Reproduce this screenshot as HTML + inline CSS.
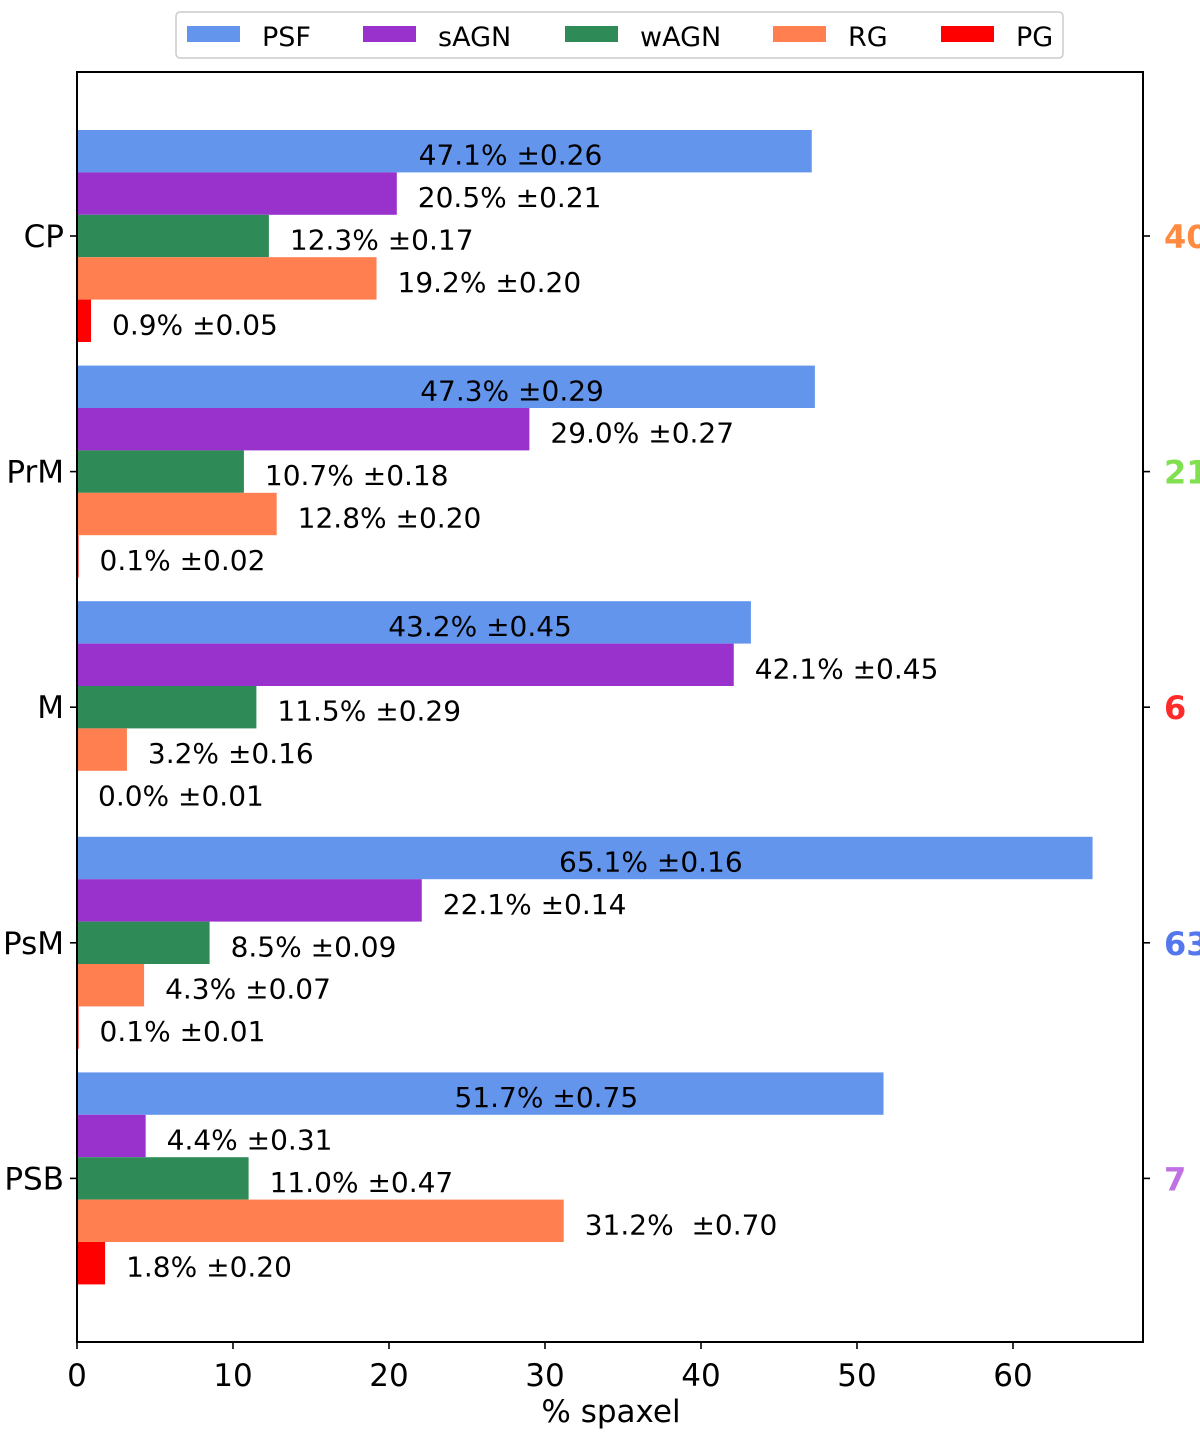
<!DOCTYPE html>
<html><head><meta charset="utf-8"><style>
html,body{margin:0;padding:0;background:#fff;}
svg text{font-family:"DejaVu Sans","Liberation Sans",sans-serif;}
</style></head><body>
<svg id="chart" width="1200" height="1442" xmlns="http://www.w3.org/2000/svg"></svg>
<script>
const categories = ["CP","PrM","M","PsM","PSB"];
const seriesNames = ["PSF","sAGN","wAGN","RG","PG"];
const psf  = [47.1, 47.3, 43.2, 65.1, 51.7];
const sagn = [20.5, 29.0, 42.1, 22.1, 4.4];
const wagn = [12.3, 10.7, 11.5, 8.5, 11.0];
const rg   = [19.2, 12.8, 3.2, 4.3, 31.2];
const pg   = [0.9, 0.1, 0.0, 0.1, 1.8];
const psfErr  = ["0.26","0.29","0.45","0.16","0.75"];
const sagnErr = ["0.21","0.27","0.45","0.14","0.31"];
const wagnErr = ["0.17","0.18","0.29","0.09","0.47"];
const rgErr   = ["0.20","0.20","0.16","0.07","0.70"];
const pgErr   = ["0.05","0.02","0.01","0.01","0.20"];
const rightLabels = ["40","21","6","63","7"];
const xTicks = [0,10,20,30,40,50,60];

const colors = ["#6495ED","#9932CC","#2E8B57","#FF7F50","#FF0000"];
const rightColors = ["#ff8a40","#80e050","#ff2a2a","#5577ee","#c070e0"];
const series = [psf,sagn,wagn,rg,pg];
const errs = [psfErr,sagnErr,wagnErr,rgErr,pgErr];

const L=77,R=1143,T=72,B=1342;
const x = v => L + v*15.6;
const yc = i => 236 + i*235.6;
const bh = 42.4;
const svg = document.getElementById('chart');
const NS = "http://www.w3.org/2000/svg";
function mk(tag, attrs, parent){const e=document.createElementNS(NS,tag);for(const k in attrs)e.setAttribute(k,attrs[k]);(parent||svg).appendChild(e);return e;}

categories.forEach((c,i)=>{
  series.forEach((s,j)=>{
    const top = yc(i) - 2.5*bh + j*bh;
    const r = mk('rect',{x:L,y:top,width:Math.max(0,x(s[i])-L),height:bh,fill:colors[j]});
    
    
    const lbl = s[i].toFixed(1)+'%'+(j===3&&i===4?'  ':' ')+'±'+errs[j][i];
    let tx = j===0 ? x(s[i]/2 - 1.65) : x(s[i]) + 21;
    const t = mk('text',{x:tx,y:top+bh/2+13.5,'font-size':28,fill:'#000','xml:space':'preserve'});
    t.textContent = lbl;
    t.setAttribute('style','white-space:pre');
    
    
  });
  mk('line',{x1:L-7,x2:L,y1:yc(i),y2:yc(i),stroke:'#000','stroke-width':1.6});
  const yl = mk('text',{x:L-13,y:yc(i)+11,'font-size':31,'text-anchor':'end'});
  yl.textContent = c;
  
  
  mk('line',{x1:R,x2:R+7,y1:yc(i),y2:yc(i),stroke:'#000','stroke-width':1.6});
  const rl = mk('text',{x:R+21,y:yc(i)+12,'font-size':32,'font-weight':'bold',fill:rightColors[i]});
  rl.textContent = rightLabels[i];
  
  
});

const fr = mk('rect',{x:L,y:T,width:R-L,height:B-T,fill:'none',stroke:'#000','stroke-width':2});



xTicks.forEach(v=>{
  mk('line',{x1:x(v),x2:x(v),y1:B,y2:B+7,stroke:'#000','stroke-width':1.6});
  const t = mk('text',{x:x(v),y:1386,'font-size':31,'text-anchor':'middle'});
  t.textContent = v;
  
  
});
const xl = mk('text',{x:611,y:1422,'font-size':31,'text-anchor':'middle'});
xl.textContent = '% spaxel';



const lg = mk('g',{});


mk('rect',{x:176,y:12,width:887,height:46,rx:4,fill:'#fff',stroke:'#ccc','stroke-width':1.5},lg);
const patchX=[187,363,565,773,941], textX=[262,438,640,848,1016];
seriesNames.forEach((n,j)=>{
  const p = mk('rect',{x:patchX[j],y:26,width:53,height:16,fill:colors[j]},lg);
  
  
  const t = mk('text',{x:textX[j],y:46,'font-size':27},lg);
  t.textContent = n;
  
  
});
</script>
</body></html>
